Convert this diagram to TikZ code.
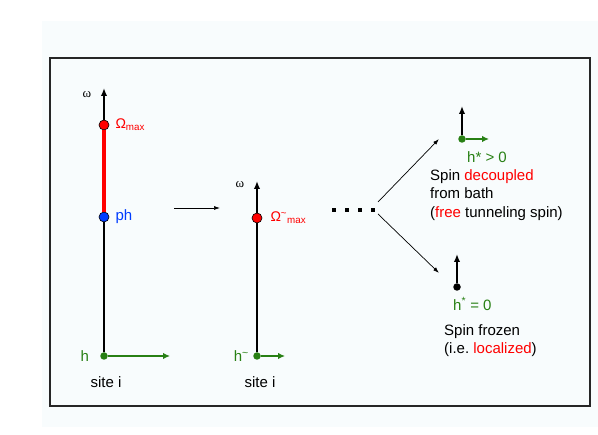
\documentclass[tikz,border=0pt]{standalone}
\usepackage{fontspec}
\setmainfont{Liberation Sans}
\newfontfamily\omegafont{Liberation Serif}
\usetikzlibrary{positioning,arrows.meta}
\definecolor{hgreen}{RGB}{40,128,20}
\definecolor{phblue}{RGB}{0,60,255}
\definecolor{pagebg}{RGB}{248,252,253}

\begin{document}
\begin{tikzpicture}[>=Latex,x=1pt,y=-1pt,
  every node/.style={font=\fontsize{15}{18.5}\selectfont,inner sep=0pt},
  axis/.style={line width=2.2pt,-{Latex[length=8pt,width=6.5pt]}},
  hfield/.style={hgreen,line width=2.2pt,-{Latex[length=7pt,width=6.5pt]}},
  bigdot/.style={circle,draw=black,line width=0.6pt,minimum size=10pt},
  smalldot/.style={circle,fill=#1,minimum size=7.5pt},
  flow/.style={line width=0.7pt,-{Latex[length=6pt,width=4pt]}},
  sq/.style={fill=black,minimum size=4.5pt},
  omegalbl/.style={font=\omegafont\fontsize{13}{13}\selectfont}]
  \useasboundingbox (0,0) rectangle (598,435);
  \fill[pagebg] (42,21) rectangle (598,427);
  \draw[line width=1.5pt,black!85] (50,58) rectangle (590,406);

  % site before decimation
  \node[smalldot=hgreen] (h1) at (104,356) {};
  \coordinate (top1) at (104,88);
  \coordinate (hend1) at (170,356);
  \draw[axis] (h1) -- (top1);
  \draw[hfield] (h1) -- (hend1);
  \node[bigdot,fill=red] (om1) at (104,125) {};
  \node[bigdot,fill=phblue] (ph1) at (104,217) {};
  \draw[red,line width=4.5pt] (om1) -- (ph1);
  \node[omegalbl] at (87,95) {ω};
  \node[red,anchor=west,right=6pt of om1] {\fontsize{14}{14}\selectfont Ω\textsubscript{max}};
  \node[phblue,right=6pt of ph1] {ph};
  \node[hgreen,left=11pt of h1] {h};
  \node (site1) at (106,382) {site i};

  \coordinate (step a) at (174,208);
  \coordinate (step b) at (220,208);
  \draw[flow] (step a) -- (step b);

  % site after one step
  \node[smalldot=hgreen] (h2) at (257,356) {};
  \coordinate (top2) at (257,181);
  \coordinate (hend2) at (285,356);
  \draw[axis] (h2) -- (top2);
  \draw[hfield] (h2) -- (hend2);
  \node[bigdot,fill=red] (om2) at (257,218) {};
  \node[omegalbl] at (240,185) {ω};
  \node[red,right=8pt of om2] {\fontsize{14}{14}\selectfont Ω\textsuperscript{\textasciitilde}\textsubscript{max}};
  \node[hgreen,left=4pt of h2] {h\textsuperscript{\textasciitilde}};
  \node (site2) at (260,382) {site i};

  \foreach \i in {0,...,3}
    \node[sq] (d\i) at ({334+13*\i},210) {};

  \coordinate (fork up) at (378,202);
  \coordinate (fork down) at (378,214);
  \coordinate (free end) at (439,139);
  \coordinate (frozen end) at (439,273);
  \draw[flow] (fork up) -- (free end);
  \draw[flow] (fork down) -- (frozen end);

  % decoupled spin
  \node[smalldot=hgreen] (hf) at (462,139) {};
  \coordinate (topf) at (462,106);
  \coordinate (hendf) at (489,139);
  \draw[axis] (hf) -- (topf);
  \draw[hfield] (hf) -- (hendf);
  \node[hgreen,anchor=west] at (467,157) {h* > 0};
  \node[anchor=north west,align=left] at (430,169) {Spin \textcolor{red}{decoupled}\\from bath\\(\textcolor{red}{free} tunneling spin)};

  % frozen spin
  \node[smalldot=black] (hz) at (457,287) {};
  \coordinate (topz) at (457,254);
  \draw[axis] (hz) -- (topz);
  \node[hgreen,anchor=west] at (453,304) {h\textsuperscript{*} = 0};
  \node[anchor=north west,align=left] at (444,324) {Spin frozen\\(i.e.\ \textcolor{red}{localized})};
\end{tikzpicture}
\end{document}
